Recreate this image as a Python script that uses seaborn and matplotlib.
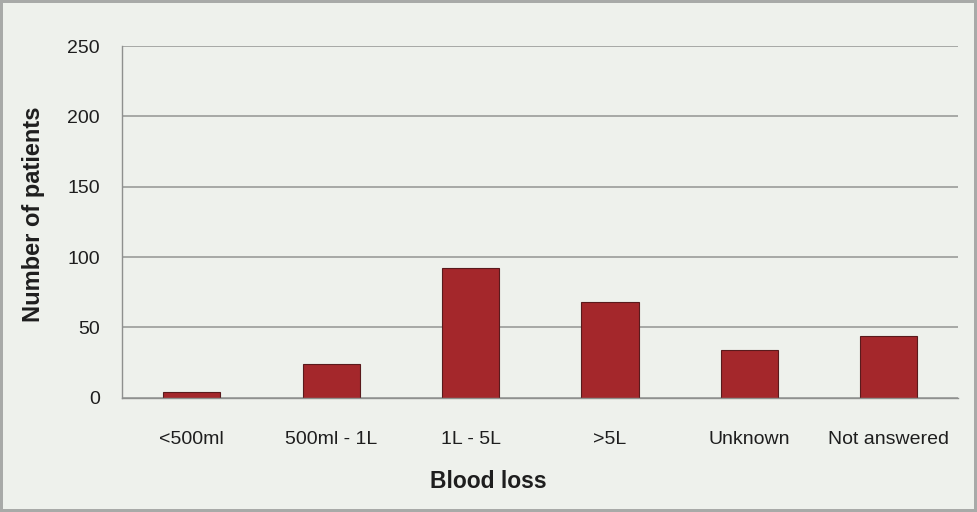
import pandas as pd
import seaborn as sns
import matplotlib.pyplot as plt
import numpy as np

# === Data ===
categories = ['<500ml', '500ml - 1L', '1L - 5L', '>5L', 'Unknown', 'Not answered']
patients = [4, 24, 92, 68, 34, 44]
y_ticks = [0, 50, 100, 150, 200, 250]

df = pd.DataFrame({'Blood loss': categories, 'Patients': patients})

bg = '#eef1ec'
sns.set_style('white')
plt.rcParams['font.family'] = ['Liberation Sans', 'DejaVu Sans']

fig = plt.figure(figsize=(9.77, 5.12), dpi=100, facecolor=bg,
                 edgecolor='#a8aaa8', linewidth=4)
ax = fig.add_axes([0.125, 0.223, 0.856, 0.687])
ax.set_facecolor(bg)

sns.barplot(data=df, x='Blood loss', y='Patients', ax=ax,
            color='#a4272b', edgecolor='#5a1a1c', linewidth=0.8,
            width=0.41, saturation=1)

# === Axes styling ===
ax.set_ylim(0, 250)
ax.set_xlim(-0.5, len(categories) - 0.5)
ax.set_yticks(y_ticks)
ax.yaxis.grid(True, color='#9a9c9a', linewidth=1.2)
ax.set_axisbelow(True)
for s in ['top', 'right']:
    ax.spines[s].set_visible(False)
for s in ['left', 'bottom']:
    ax.spines[s].set_color('#8e908e')
    ax.spines[s].set_linewidth(1)

ax.tick_params(axis='x', length=0, pad=24, labelsize=14, labelcolor='#1e1e1e')
ax.set_xticks(np.arange(-0.5, len(categories), 1.0), minor=True)
ax.tick_params(axis='x', which='minor', length=5, color='#8e908e', direction='out')
ax.tick_params(axis='y', length=6, color='#8e908e', pad=10, labelsize=14,
               labelcolor='#1e1e1e')

ax.set_xlabel('Blood loss', fontsize=16.5, fontweight='bold', color='#1e1e1e')
ax.xaxis.set_label_coords(0.438, -0.205)
ax.set_ylabel('Number of patients', fontsize=17, fontweight='bold', color='#1e1e1e')
ax.yaxis.set_label_coords(-0.092, 0.521)

plt.savefig('out.png', dpi=100, facecolor=bg, edgecolor='#a8aaa8')
